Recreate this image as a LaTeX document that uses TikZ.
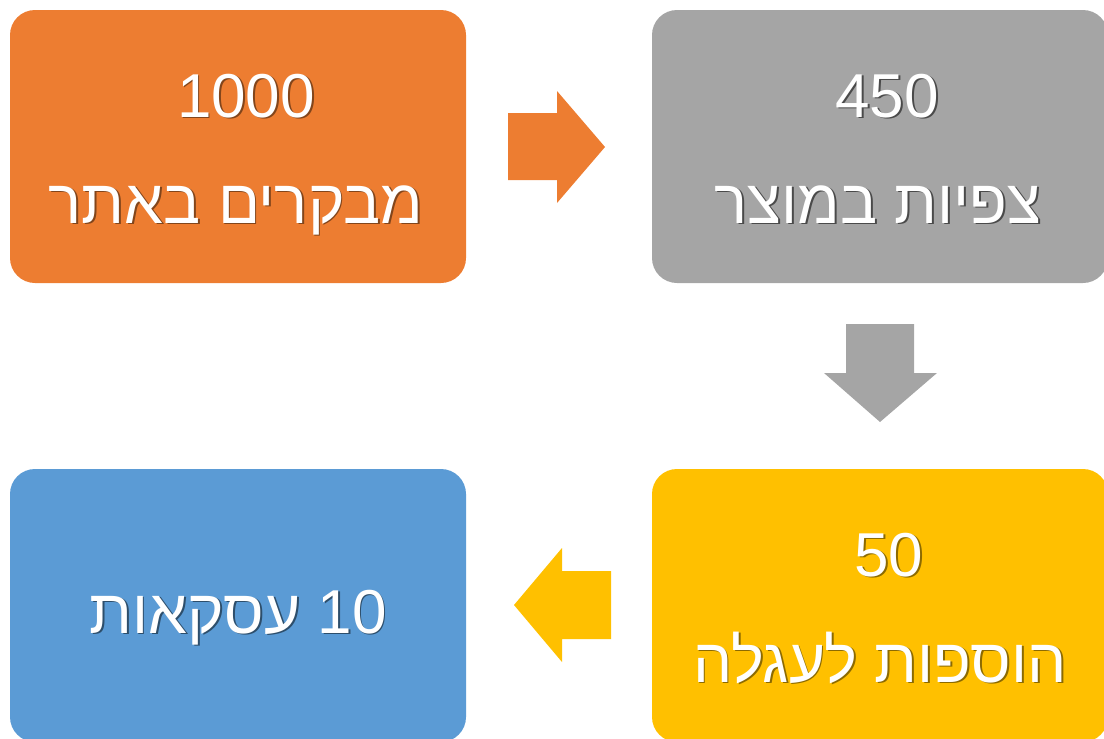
\documentclass[tikz,border=0pt]{standalone}
\usepackage{fontspec}
\setmainfont{Liberation Sans}
\newfontfamily\hebfont[Script=Hebrew]{Liberation Sans}
\TeXXeTstate=1
\definecolor{cOrange}{HTML}{ED7D31}
\definecolor{cGray}{HTML}{A5A5A5}
\definecolor{cYellow}{HTML}{FFC000}
\definecolor{cBlue}{HTML}{5B9BD5}
\colorlet{sOrange}{cOrange!55!black}
\colorlet{sGray}{cGray!45!black}
\colorlet{sYellow}{cYellow!55!black}
\colorlet{sBlue}{cBlue!50!black}
\newcommand\shtxt[2]{\makebox[0pt][l]{\hspace{1.8pt}\raisebox{-1.8pt}{\color{#1}#2}}#2}
\begin{document}
\begin{tikzpicture}[x=1pt,y=-1pt,
  box/.style={rounded corners=25pt, inner sep=0pt, outer sep=0pt, minimum width=456pt, minimum height=273pt},
  txt/.style={anchor=base, text=white, inner sep=0pt, font=\fontsize{62}{74}\selectfont},
  heb/.style={txt, font=\fontsize{62}{74}\selectfont\hebfont}]
\useasboundingbox (0,0) rectangle (1104,739);
% boxes
\node[box, fill=cOrange] (b1) at (238,146.5) {};
\node[box, fill=cGray]   (b2) at (880,146.5) {};
\node[box, fill=cYellow] (b3) at (880,605.5) {};
\node[box, fill=cBlue]   (b4) at (238,605.5) {};
% texts
\node[txt] (t1a) at (246,117) {\shtxt{sOrange}{1000}};
\node[heb] (t1b) at (236,223) {\shtxt{sOrange}{\beginR מבקרים באתר\endR}};
\node[txt] (t2a) at (887,117) {\shtxt{sGray}{450}};
\node[heb] (t2b) at (878,223) {\shtxt{sGray}{\beginR צפיות במוצר\endR}};
\node[txt] (t3a) at (889,576) {\shtxt{sYellow}{50}};
\node[heb] (t3b) at (880,682) {\shtxt{sYellow}{\beginR הוספות לעגלה\endR}};
\node[heb] (t4)  at (238,633) {\shtxt{sBlue}{\beginR\beginL 10\endL{} עסקאות\endR}};
% block arrows
\fill[cOrange] (508,113) -- (557,113) -- (557,91) -- (605,147) -- (557,203) -- (557,180) -- (508,180) -- cycle;
\fill[cGray] (846,324) -- (914,324) -- (914,373) -- (937,373) -- (880,422) -- (824,373) -- (846,373) -- cycle;
\fill[cYellow] (611,571) -- (562,571) -- (562,548) -- (514,605) -- (562,662) -- (562,639) -- (611,639) -- cycle;
\end{tikzpicture}
\end{document}
